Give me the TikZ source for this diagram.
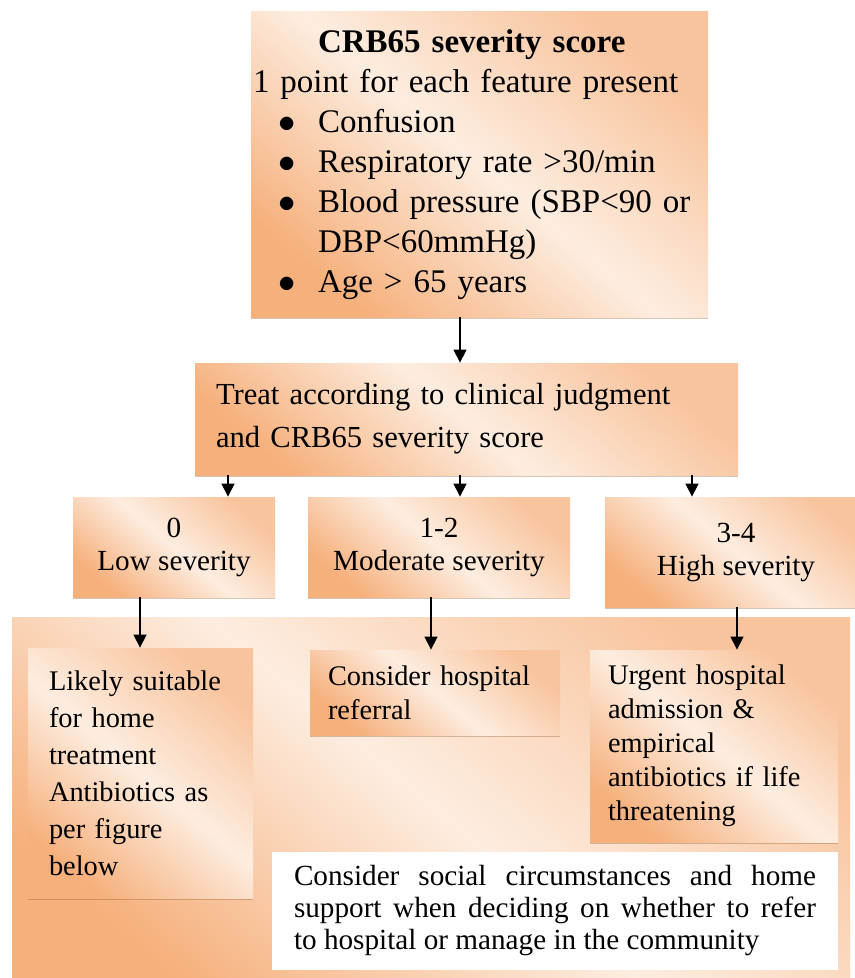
\documentclass[tikz,border=0pt]{standalone}
\usepackage{fontspec}
\setmainfont{Liberation Serif}
\usepackage{tikz}
\usetikzlibrary {arrows.meta,
                 shadows}
\definecolor{peach}{RGB}{246,176,124}
\definecolor{peachlight}{RGB}{253,237,224}
\newcommand{\critem}{\hspace*{12.5pt}\makebox[20pt][l]{$\bullet$}}
\tikzset{
        base/.style={inner sep=0pt, shading=axis, bottom color=peach,
                     top color=peach!75!white, middle color=peachlight,
                     shading angle=-40,
                     drop shadow={shadow xshift=0.2pt, shadow yshift=-1.2pt,
                                  opacity=0.35, fill=brown!70!black}},
        sev/.style={base, align=center, minimum height=50pt,
                    font=\fontsize{14.6}{16.5}\selectfont},
        act/.style={base, align=left, font=\fontsize{14.2}{17}\selectfont},
        note/.style={fill=white, inner sep=0pt, align=justify,
                     font=\fontsize{14.6}{16}\selectfont},
        myarrow/.style={-{Triangle[width=6.5pt, length=6.5pt]}, line width=0.65pt},
 }

\begin{document}
\begin{tikzpicture}[x=0.5pt, y=-0.5pt]
    \fill[white] (0,0) rectangle (855,978);
    \useasboundingbox (0,0) rectangle (855,978);

    % score box
    \node[base, minimum width=228.5pt, minimum height=152.5pt, text width=226.5pt,
          align=left, font=\fontsize{16.5}{20}\selectfont] (crb) at (479.5,164.5)
         {\begin{tabular}{@{}l@{}}
          \multicolumn{1}{@{}c@{}}{\textbf{CRB65 severity score}}\\
          1 point for each feature present\\
          \critem Confusion\\
          \critem Respiratory rate >30/min\\
          \critem Blood pressure (SBP<90 or\\
          \hspace*{32.5pt}DBP<60mmHg)\\
          \critem Age > 65 years
          \end{tabular}};

    \node[base, minimum width=271.5pt, minimum height=56pt, text width=250.5pt,
          align=left, font=\fontsize{15.3}{21.5}\selectfont] (treat) at (466.5,419)
         {Treat according to clinical judgment\\ and CRB65 severity score};

    % severity levels
    \node[sev, minimum width=101pt] (low) at (174,547) {0\\ Low severity};
    \node[sev, minimum width=131pt] (mod) at (439,547) {1-2\\ Moderate severity};
    \node[sev, minimum width=131pt, minimum height=55pt] (high) at (736,552)
         {3-4\\ High severity};

    % management
    \node[base, minimum width=419pt, minimum height=189pt] (manage) at (431,806) {};
    \node[act, minimum width=112.5pt, minimum height=125pt, text width=91.5pt,
          font=\fontsize{14.2}{18.5}\selectfont] (home) at (140.5,773)
         {Likely suitable\\ for home\\ treatment\\ Antibiotics as\\ per figure\\ below};
    \node[act, minimum width=125pt, minimum height=42.5pt, text width=107pt]
         (refer) at (435,692.5) {Consider hospital\\ referral};
    \node[act, minimum width=124pt, minimum height=96pt, text width=106pt]
         (admit) at (714,746)
         {Urgent hospital\\ admission \&\\ empirical\\ antibiotics if life\\ threatening};
    \node[note, minimum width=283pt, minimum height=59pt, text width=261pt]
         (social) at (555,911)
         {Consider social circumstances and home\linebreak support when deciding
          on whether to refer\linebreak to hospital or manage in the community};

    \coordinate (c0) at (460,0);
    \coordinate (c1) at (228,0);
    \coordinate (c2) at (460,0);
    \coordinate (c3) at (692,0);
    \coordinate (d1) at (140,0);
    \coordinate (d2) at (431,0);
    \coordinate (d3) at (737,0);

    \draw[myarrow] (crb.south -| c0) -- (treat.north -| c0);
    \draw[myarrow] (treat.south -| c1) -- (low.north -| c1);
    \draw[myarrow] (treat.south -| c2) -- (mod.north -| c2);
    \draw[myarrow] (treat.south -| c3) -- (high.north -| c3);
    \draw[myarrow] (low.south -| d1) -- (home.north -| d1);
    \draw[myarrow] (mod.south -| d2) -- (refer.north -| d2);
    \draw[myarrow] (high.south -| d3) -- (admit.north -| d3);
\end{tikzpicture}
\end{document}
